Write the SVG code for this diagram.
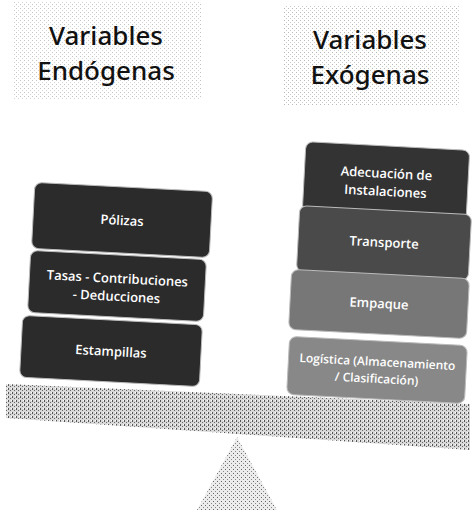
<svg xmlns="http://www.w3.org/2000/svg" width="472" height="511" viewBox="0 0 472 511">
<defs>
<pattern id="dots" width="4" height="4" patternUnits="userSpaceOnUse">
<rect width="4" height="4" fill="#ffffff"/>
<rect x="0" y="0" width="1" height="1" fill="#888"/>
<rect x="2" y="2" width="1" height="1" fill="#aaa"/>
</pattern>
<pattern id="beam" width="4" height="4" patternUnits="userSpaceOnUse">
<rect width="4" height="4" fill="#d8d8d8"/>
<rect x="0" y="0" width="1" height="2" fill="#555"/>
<rect x="2" y="2" width="1" height="1" fill="#666"/>
<rect x="3" y="0" width="1" height="1" fill="#fff"/>
</pattern>
<pattern id="tri" width="4" height="4" patternUnits="userSpaceOnUse">
<rect width="4" height="4" fill="#ececec"/>
<rect x="1" y="1" width="1" height="1" fill="#666"/>
<rect x="3" y="3" width="1" height="1" fill="#888"/>
</pattern>
</defs>
<style>
.title{font-family:"Noto Sans","Open Sans",sans-serif;font-size:26px;font-weight:500;fill:#111;text-anchor:middle}
.lbl{font-family:"Open Sans","Noto Sans",sans-serif;font-size:13px;font-weight:600;fill:#fff;text-anchor:middle}
.box{stroke:#bbb;stroke-width:1}
</style>
<g id="title-endogenas">
<rect x="14" y="2" width="188" height="98" fill="url(#dots)" opacity="0.5"/>
<text class="title" x="106" y="45">Variables</text>
<text class="title" x="106" y="80">Endógenas</text>
</g>
<g id="title-exogenas">
<rect x="283" y="6" width="176" height="100" fill="url(#dots)" opacity="0.6"/>
<text class="title" x="370" y="49">Variables</text>
<text class="title" x="370" y="84">Exógenas</text>
</g>
<g id="beam-fulcrum">
<polygon points="6,384 470,404 470,450 6,418" fill="url(#beam)"/>
<polygon points="237,437 277,510 197,510" fill="url(#tri)"/>
</g>
<g id="node-polizas" transform="rotate(3 122 221)">
<rect class="box" x="33" y="187" width="178" height="66" rx="7" fill="#2b2b2b"/>
<text class="lbl" x="122" y="225">Pólizas</text>
</g>
<g id="node-tasas" transform="rotate(3 117 286)">
<rect class="box" x="29" y="255" width="176" height="62" rx="7" fill="#2b2b2b"/>
<text class="lbl" x="117" y="283">Tasas - Contribuciones</text>
<text class="lbl" x="117" y="301">- Deducciones</text>
</g>
<g id="node-estampillas" transform="rotate(3 111 351)">
<rect class="box" x="21" y="320" width="180" height="62" rx="7" fill="#2b2b2b"/>
<text class="lbl" x="111" y="356">Estampillas</text>
</g>
<g id="node-adecuacion" transform="rotate(3 386 181)">
<rect class="box" x="304" y="146" width="164" height="70" rx="7" fill="#333"/>
<text class="lbl" x="386" y="178">Adecuación de</text>
<text class="lbl" x="386" y="196">Instalaciones</text>
</g>
<g id="node-transporte" transform="rotate(3 384 243)">
<rect class="box" x="298" y="210" width="172" height="66" rx="7" fill="#4a4a4a"/>
<text class="lbl" x="384" y="247">Transporte</text>
</g>
<g id="node-empaque" transform="rotate(3 379 304)">
<rect class="box" x="290" y="274" width="178" height="60" rx="7" fill="#777"/>
<text class="lbl" x="379" y="308">Empaque</text>
</g>
<g id="node-logistica" transform="rotate(3 377 370)">
<rect class="box" x="288" y="341" width="178" height="58" rx="7" fill="#888"/>
<text class="lbl" x="377" y="366" style="font-size:12px">Logística (Almacenamiento</text>
<text class="lbl" x="377" y="383" style="font-size:12px">/ Clasificación)</text>
</g>
<g id="connectors"></g>
</svg>
